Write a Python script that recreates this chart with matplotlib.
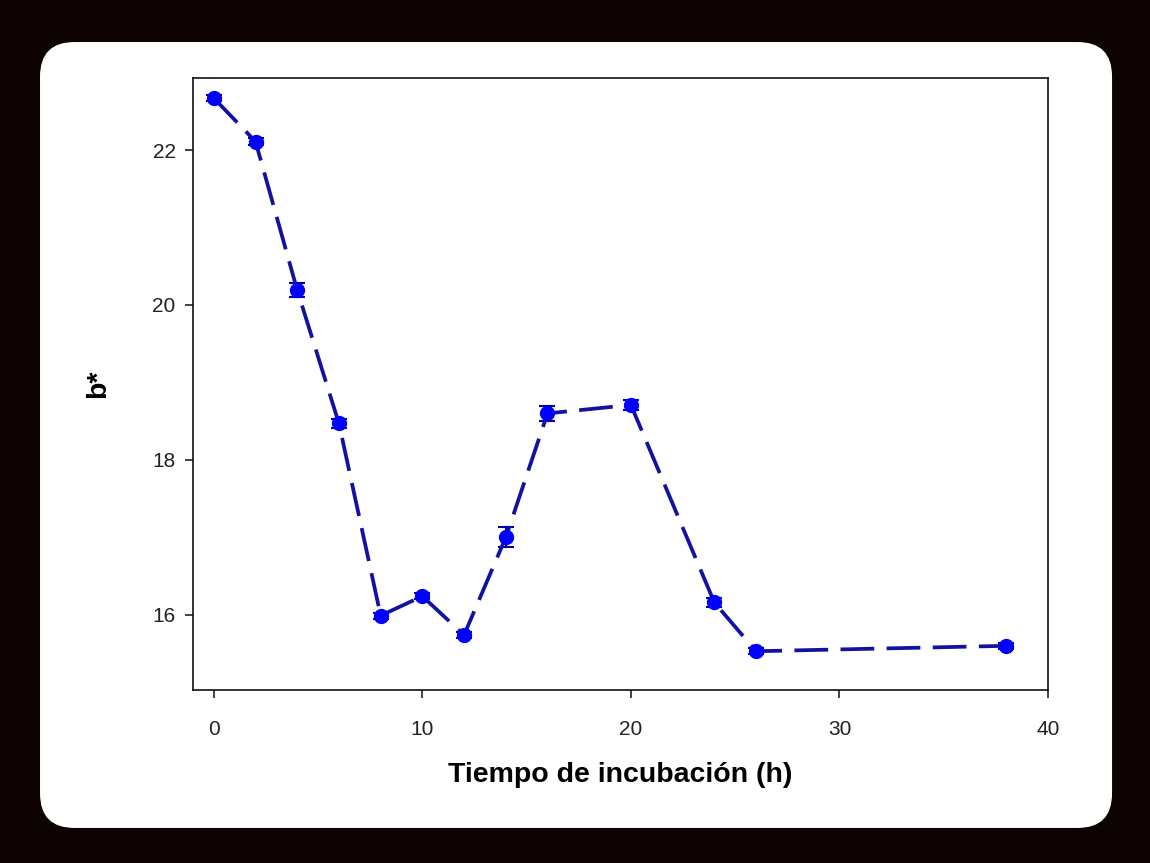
import matplotlib.pyplot as plt
from matplotlib.patches import FancyBboxPatch

plt.rcParams["font.family"] = ["Liberation Sans", "DejaVu Sans"]

tiempo = [0, 2, 4, 6, 8, 10, 12, 14, 16, 20, 24, 26, 38]
b_star = [22.67, 22.11, 20.19, 18.47, 15.99, 16.24, 15.74, 17.00, 18.60, 18.71, 16.16, 15.53, 15.60]
error = [0.04, 0.04, 0.09, 0.06, 0.04, 0.04, 0.04, 0.13, 0.10, 0.06, 0.06, 0.04, 0.04]

x_ticks = [0, 10, 20, 30, 40]
y_ticks = [16, 18, 20, 22]

fig = plt.figure(figsize=(11.5, 8.63), dpi=100)
fig.patch.set_facecolor("#0d0303")

# white rounded panel behind the axes
panel = FancyBboxPatch((0.0348, 0.0406), 0.9322, 0.9107,
                       boxstyle="round,pad=0,rounding_size=0.03",
                       transform=fig.transFigure, facecolor="white",
                       edgecolor="none", mutation_aspect=1150 / 863, zorder=-5)
fig.patches.append(panel)

ax = fig.add_axes([0.1678, 0.2005, 0.7435, 0.7091])
ax.set_facecolor("white")

ax.errorbar(tiempo, b_star, yerr=error, color="#1212a0", linestyle=(0, (9, 3.3)),
            linewidth=2.7, marker="o", markersize=10, markerfacecolor="#0000ff",
            markeredgecolor="#0000ff", ecolor="#00009a", elinewidth=1.5,
            capsize=6, capthick=1.5)

ax.set_xlim(-1, 40)
ax.set_ylim(15.03, 22.93)
ax.set_xticks(x_ticks)
ax.set_yticks(y_ticks)
ax.tick_params(direction="out", length=6, width=1.2, labelsize=15, colors="#222222")
ax.tick_params(axis="x", pad=15.5)
ax.tick_params(axis="y", pad=6.5)
for s in ax.spines.values():
    s.set_linewidth(1.2)
    s.set_color("#111111")

ax.set_xlabel("Tiempo de incubación (h)", fontsize=20.5, fontweight="bold", labelpad=17)
ax.set_ylabel("b*", fontsize=20.5, fontweight="bold", labelpad=30)

fig.savefig("out.png", dpi=100, facecolor=fig.get_facecolor())
